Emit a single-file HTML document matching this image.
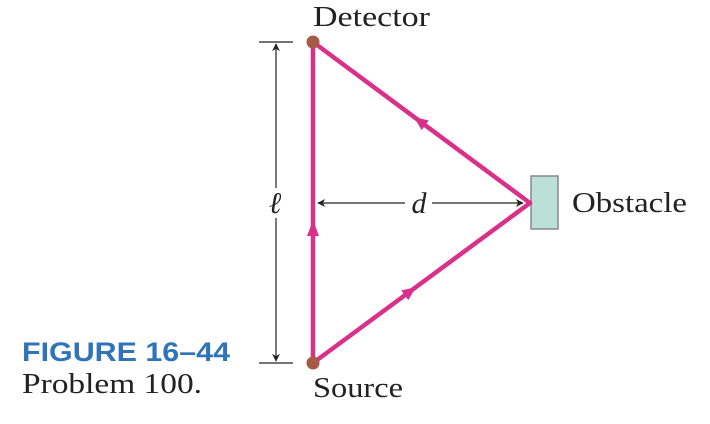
<!DOCTYPE html>
<html><head><meta charset="utf-8"><style>
html,body{margin:0;padding:0;background:#fff;width:710px;height:424px;overflow:hidden}
</style></head><body>
<svg width="710" height="424" viewBox="0 0 710 424" xmlns="http://www.w3.org/2000/svg">
<defs>
<marker id="ah" viewBox="0 0 10 10" refX="9" refY="5" markerWidth="12" markerHeight="8" orient="auto-start-reverse" markerUnits="userSpaceOnUse"><path d="M0,0 L10,5 L0,10 L3,5 z" fill="#222"/></marker>
</defs>
<g>
<line x1="259" y1="42" x2="293" y2="42" stroke="#222" stroke-width="1.2"/>
<line x1="259" y1="363" x2="293" y2="363" stroke="#222" stroke-width="1.2"/>
<line x1="276" y1="44" x2="276" y2="188" stroke="#222" stroke-width="1.2" marker-start="url(#ah)"/>
<line x1="276" y1="218" x2="276" y2="361" stroke="#222" stroke-width="1.2" marker-end="url(#ah)"/>
<text x="275" y="213" font-family="Liberation Serif, serif" font-style="italic" font-size="30" text-anchor="middle" fill="#222">ℓ</text>
</g>
<g>
<line x1="318" y1="203" x2="405" y2="203" stroke="#222" stroke-width="1.2" marker-start="url(#ah)"/>
<line x1="432" y1="203" x2="523" y2="203" stroke="#222" stroke-width="1.2" marker-end="url(#ah)"/>
<text x="419" y="213" font-family="Liberation Serif, serif" font-style="italic" font-size="30" text-anchor="middle" fill="#222">d</text>
</g>
<rect x="531" y="176" width="27" height="53" fill="#bde0d6" stroke="#888" stroke-width="1.5"/>
<g stroke="#d9318a" stroke-width="4.5" fill="none" stroke-linecap="round">
<line x1="313" y1="363" x2="313" y2="42"/>
<line x1="313" y1="363" x2="530" y2="203"/>
<line x1="530" y1="203" x2="313" y2="42"/>
</g>
<g fill="#d9318a">
<path d="M313,220 L307,236 L319,236 z"/>
<path d="M0,0 L-14,-6 L-14,6 z" transform="translate(416,287) rotate(-36.4)"/>
<path d="M0,0 L-14,-6 L-14,6 z" transform="translate(414,117) rotate(216.6)"/>
</g>
<circle cx="313" cy="42" r="6.5" fill="#a65a47"/>
<circle cx="313" cy="363" r="6.5" fill="#a65a47"/>
<text x="313" y="26" font-family="Liberation Serif, serif" font-size="29" textLength="117" lengthAdjust="spacingAndGlyphs" fill="#222">Detector</text>
<text x="313" y="397" font-family="Liberation Serif, serif" font-size="29" textLength="90" lengthAdjust="spacingAndGlyphs" fill="#222">Source</text>
<text x="572" y="212" font-family="Liberation Serif, serif" font-size="29" textLength="115" lengthAdjust="spacingAndGlyphs" fill="#222">Obstacle</text>
<text x="22" y="361" font-family="Liberation Sans, sans-serif" font-weight="bold" font-size="27" textLength="208" lengthAdjust="spacingAndGlyphs" fill="#2f74b8">FIGURE 16–44</text>
<text x="22" y="393" font-family="Liberation Serif, serif" font-size="28" textLength="180" lengthAdjust="spacingAndGlyphs" fill="#222">Problem 100.</text>
</svg>
</body></html>
